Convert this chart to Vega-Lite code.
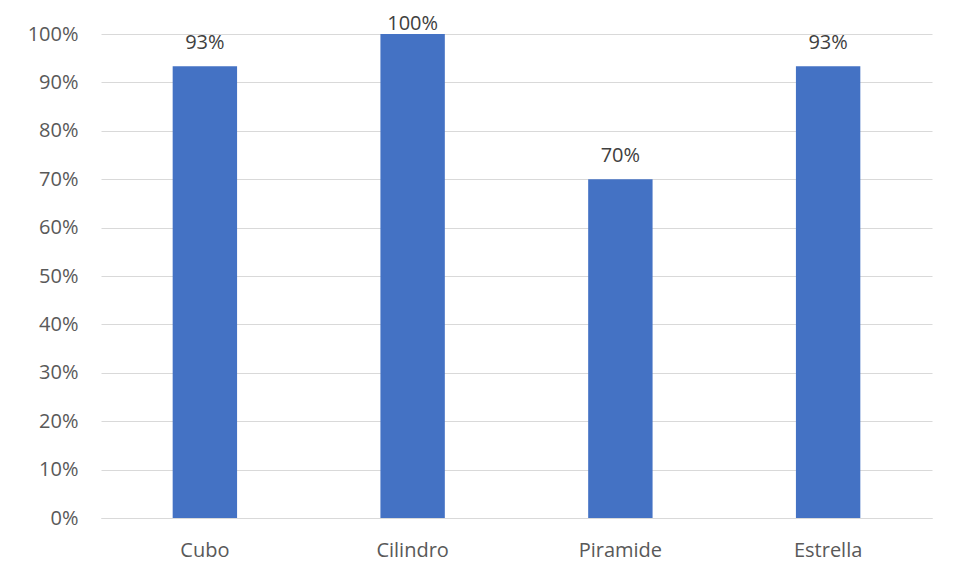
{
  "$schema": "https://vega.github.io/schema/vega-lite/v6.json",
  "autosize": "none",
  "width": 831,
  "height": 484,
  "padding": {"left": 101, "top": 34, "right": 24, "bottom": 63},
  "background": "white",
  "data": {
    "values": [
      {"figura": "Cubo", "pct": 0.9333},
      {"figura": "Cilindro", "pct": 1.0},
      {"figura": "Piramide", "pct": 0.7},
      {"figura": "Estrella", "pct": 0.9333}
    ]
  },
  "encoding": {
    "x": {
      "field": "figura",
      "type": "nominal",
      "sort": null,
      "title": null,
      "scale": {"paddingInner": 0.69, "paddingOuter": 0.345},
      "axis": {
        "labelAngle": 0,
        "ticks": false,
        "domainColor": "#d9d9d9",
        "labelPadding": 22,
        "labelFontSize": 20,
        "labelColor": "#595959",
        "labelFont": "Open Sans"
      }
    }
  },
  "layer": [
    {
      "mark": {"type": "bar", "color": "#4472C4"},
      "encoding": {
        "y": {
          "field": "pct",
          "type": "quantitative",
          "title": null,
          "scale": {"domain": [0, 1], "nice": false},
          "axis": {
            "values": [0, 0.1, 0.2, 0.3, 0.4, 0.5, 0.6, 0.7, 0.8, 0.9, 1.0],
            "format": ".0%",
            "domain": false,
            "ticks": false,
            "gridColor": "#d9d9d9",
            "gridWidth": 1,
            "labelPadding": 23,
            "labelFontSize": 20,
            "labelColor": "#595959",
            "labelFont": "Open Sans"
          }
        }
      }
    },
    {
      "transform": [{"calculate": "min(datum.pct, 0.973)", "as": "labelPos"}],
      "mark": {
        "type": "text",
        "dy": -17,
        "baseline": "alphabetic",
        "fontSize": 20,
        "font": "Open Sans",
        "color": "#404040"
      },
      "encoding": {
        "y": {"field": "labelPos", "type": "quantitative"},
        "text": {"field": "pct", "type": "quantitative", "format": ".0%"}
      }
    }
  ],
  "config": {
    "view": {"stroke": null}
  }
}
